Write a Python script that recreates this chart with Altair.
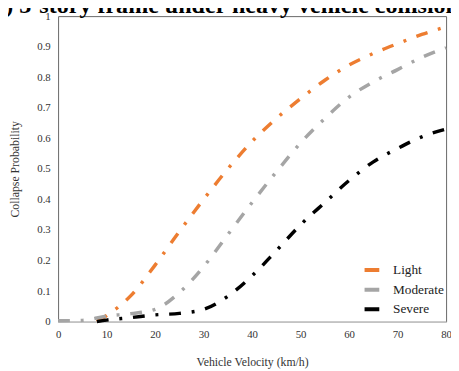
import altair as alt
import pandas as pd

# ---- data ----
series_names = ["Light", "Moderate", "Severe"]
series_colors = ["#ED7D31", "#A5A5A5", "#000000"]

light_v = [8, 10, 15, 20, 25, 30, 35, 40, 45, 50, 55, 60, 65, 70, 75, 80]
light_p = [0.0, 0.02, 0.085, 0.185, 0.295, 0.40, 0.50, 0.59, 0.665, 0.73, 0.79, 0.84, 0.878, 0.91, 0.94, 0.965]

moderate_v = [0, 5, 10, 15, 20, 25, 30, 35, 40, 45, 50, 55, 60, 65, 70, 75, 80]
moderate_p = [0.003, 0.004, 0.018, 0.026, 0.04, 0.095, 0.18, 0.285, 0.39, 0.49, 0.585, 0.665, 0.735, 0.785, 0.825, 0.865, 0.897]

severe_v = [8, 10, 15, 20, 25, 30, 35, 40, 45, 50, 55, 60, 65, 70, 75, 80]
severe_p = [0.0, 0.005, 0.013, 0.022, 0.027, 0.04, 0.083, 0.15, 0.232, 0.317, 0.39, 0.462, 0.523, 0.567, 0.605, 0.63]

x_ticks = [0, 10, 20, 30, 40, 50, 60, 70, 80]
y_ticks = [0, 0.1, 0.2, 0.3, 0.4, 0.5, 0.6, 0.7, 0.8, 0.9, 1.0]

title_text = ["(a) 3-story frame under heavy vehicle collision"]

rows = []
for name, vs, ps in zip(series_names, [light_v, moderate_v, severe_v], [light_p, moderate_p, severe_p]):
    for v, p in zip(vs, ps):
        rows.append({"series": name, "v": v, "p": p})
df = pd.DataFrame(rows)

FONT = "Liberation Serif"

lines = alt.Chart(df).mark_line(
    strokeWidth=3.5, strokeDash=[12, 11, 3, 11], interpolate="monotone"
).encode(
    x=alt.X("v:Q", scale=alt.Scale(domain=[0, 80], nice=False),
            axis=alt.Axis(values=x_ticks, title="Vehicle Velocity (km/h)", grid=False,
                          ticks=False, domain=True, domainColor="#d9d9d9",
                          labelPadding=7, titlePadding=18, labelFlush=False,
                          labelFont=FONT, titleFont=FONT)),
    y=alt.Y("p:Q", scale=alt.Scale(domain=[0, 1], nice=False),
            axis=alt.Axis(values=y_ticks, format="~g", title="Collapse Probability", grid=False,
                          ticks=False, domain=False, labelPadding=8, titlePadding=16,
                          labelFlush=False, labelFont=FONT, titleFont=FONT)),
    color=alt.Color("series:N", scale=alt.Scale(domain=series_names, range=series_colors),
                    legend=alt.Legend(title=None, orient="none", legendX=310, legendY=249,
                                      symbolType="stroke", symbolStrokeWidth=4, symbolSize=225,
                                      symbolDash=[1, 0], labelFont=FONT, labelFontSize=13.5,
                                      labelColor="#222", rowPadding=2, padding=0, labelOffset=12)),
    order=alt.Order("v:Q"),
)

title = alt.Chart(pd.DataFrame({"t": title_text})).mark_text(
    font=FONT, fontSize=24.5, fontWeight="bold", align="center", baseline="alphabetic", color="black"
).encode(text="t:N", x=alt.value(167), y=alt.value(-3))

chart = alt.layer(lines, title).properties(
    width=395, height=311,
    autosize=alt.AutoSizeParams(type="none"),
    padding={"left": 51, "top": 5, "right": 5, "bottom": 47},
).configure(font=FONT).configure_view(stroke="#666666", strokeWidth=1).configure_axis(
    labelFont=FONT, labelFontSize=11, labelColor="#333", titleFont=FONT, titleFontSize=12,
    titleFontWeight="normal", titleColor="#333"
).configure_legend(labelFont=FONT)

chart.save("out.html", embed_options={"renderer": "svg", "actions": False})
